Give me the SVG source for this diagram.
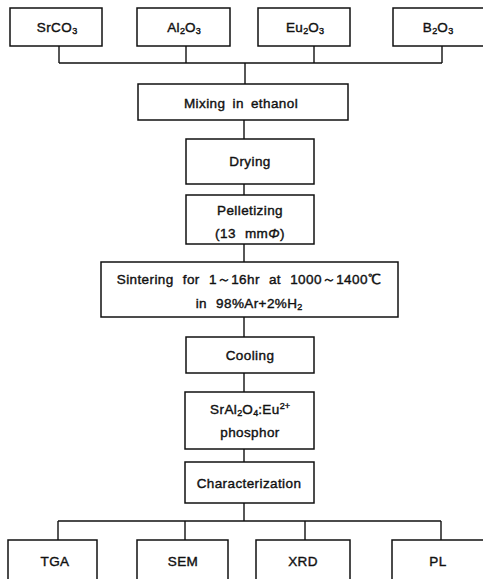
<svg xmlns="http://www.w3.org/2000/svg" width="483" height="579" viewBox="0 0 483 579">
  <style>
    .box { fill: #fff; stroke: #111; stroke-width: 1.5; }
    .ln { fill: none; stroke: #111; stroke-width: 1.4; }
    text { font-family: "Liberation Sans", Arial, sans-serif; font-size: 13.5px; letter-spacing: 0.4px; word-spacing: 3px; fill: #111; stroke: #111; stroke-width: 0.4; text-anchor: middle; }
    .sub { font-size: 9px; letter-spacing: 0; }
    .wide { word-spacing: 5px; }
  </style>
  <rect width="483" height="579" fill="#fff"/>

  <g id="connectors">
    <!-- raw materials merge -->
    <path class="ln" d="M59 46V63M186 46V63M314 46V63M442 46V63M59 63H442M245 63V84"/>
    <path class="ln" d="M244 120V139M244 184V195M244 244V262M244 317V337M244 373V392M244 449V462"/>
    <!-- characterization split -->
    <path class="ln" d="M244 503V521M58 521H441M58 521V540M185 521V540M305 521V540M441 521V540"/>
  </g>

  <g id="srco3"><rect class="box" x="10" y="8" width="92" height="38"/>
    <text x="57" y="32">SrCO<tspan class="sub" dy="2">3</tspan></text></g>
  <g id="al2o3"><rect class="box" x="137" y="8" width="93" height="38"/>
    <text x="184" y="32">Al<tspan class="sub" dy="2">2</tspan><tspan dy="-2">O</tspan><tspan class="sub" dy="2">3</tspan></text></g>
  <g id="eu2o3"><rect class="box" x="258" y="8" width="92" height="38"/>
    <text x="305" y="32">Eu<tspan class="sub" dy="2">2</tspan><tspan dy="-2">O</tspan><tspan class="sub" dy="2">3</tspan></text></g>
  <g id="b2o3"><rect class="box" x="393" y="8" width="100" height="38"/>
    <text x="438" y="32">B<tspan class="sub" dy="2">2</tspan><tspan dy="-2">O</tspan><tspan class="sub" dy="2">3</tspan></text></g>

  <g id="mixing"><rect class="box" x="138" y="84" width="210" height="36"/>
    <text x="241" y="108">Mixing in ethanol</text></g>
  <g id="drying"><rect class="box" x="186" y="139" width="128" height="45"/>
    <text x="250" y="166">Drying</text></g>
  <g id="pelletizing"><rect class="box" x="186" y="195" width="128" height="49"/>
    <text x="250" y="215">Pelletizing</text>
    <text class="wide" x="250" y="238">(13 mm<tspan font-style="italic">Φ</tspan>)</text></g>
  <g id="sintering"><rect class="box" x="101" y="262" width="297" height="55"/>
    <text class="wide" x="249" y="284">Sintering for 1～16hr at 1000～1400℃</text>
    <text class="wide" x="249" y="308">in 98%Ar+2%H<tspan class="sub" dy="2">2</tspan></text></g>
  <g id="cooling"><rect class="box" x="186" y="337" width="128" height="36"/>
    <text x="250" y="360">Cooling</text></g>
  <g id="phosphor"><rect class="box" x="185" y="392" width="129" height="57"/>
    <text x="250" y="414">SrAl<tspan class="sub" dy="2">2</tspan><tspan dy="-2">O</tspan><tspan class="sub" dy="2">4</tspan><tspan dy="-2">:Eu</tspan><tspan class="sub" dy="-5">2+</tspan></text>
    <text x="250" y="437">phosphor</text></g>
  <g id="characterization"><rect class="box" x="185" y="462" width="129" height="41"/>
    <text x="249" y="488">Characterization</text></g>

  <g id="tga"><rect class="box" x="8" y="540" width="89" height="50"/>
    <text x="55" y="566">TGA</text></g>
  <g id="sem"><rect class="box" x="137" y="540" width="91" height="50"/>
    <text x="183" y="566">SEM</text></g>
  <g id="xrd"><rect class="box" x="256" y="540" width="94" height="50"/>
    <text x="303" y="566">XRD</text></g>
  <g id="pl"><rect class="box" x="392" y="540" width="100" height="50"/>
    <text x="438" y="566">PL</text></g>
</svg>
